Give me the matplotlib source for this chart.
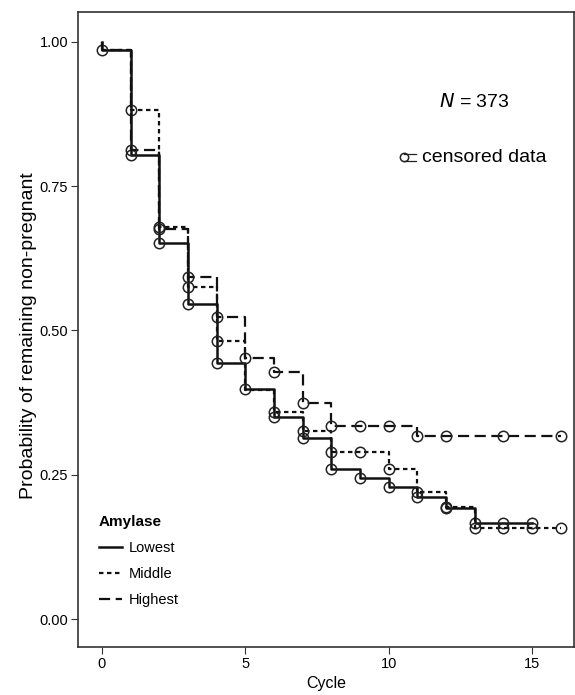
import numpy as np
import matplotlib.pyplot as plt

plt.rcParams['font.family'] = ['Liberation Sans', 'DejaVu Sans']

# survival estimate after the event at each cycle (Kaplan-Meier steps)
cycles_low = [0, 1, 2, 3, 4, 5, 6, 7, 8, 9, 10, 11, 12, 13, 14, 15]
surv_low = [0.986, 0.804, 0.652, 0.546, 0.444, 0.398, 0.350, 0.313, 0.260,
            0.245, 0.229, 0.211, 0.192, 0.166, 0.166, 0.166]
cens_low = [0, 1, 2, 3, 4, 5, 6, 7, 8, 9, 10, 11, 12, 13, 14, 15]

cycles_mid = [0, 1, 2, 3, 4, 5, 6, 7, 8, 9, 10, 11, 12, 13, 14, 15, 16]
surv_mid = [0.986, 0.882, 0.680, 0.575, 0.482, 0.396, 0.359, 0.326, 0.290,
            0.290, 0.260, 0.220, 0.194, 0.158, 0.158, 0.158, 0.158]
cens_mid = [1, 2, 3, 4, 6, 7, 8, 9, 10, 11, 12, 13, 14, 15, 16]

cycles_high = [0, 1, 2, 3, 4, 5, 6, 7, 8, 9, 10, 11, 12, 13, 14, 15, 16]
surv_high = [0.986, 0.813, 0.676, 0.593, 0.523, 0.452, 0.428, 0.375, 0.335,
             0.335, 0.335, 0.317, 0.317, 0.317, 0.317, 0.317, 0.317]
cens_high = [1, 2, 3, 4, 5, 6, 7, 8, 9, 10, 11, 12, 14, 16]

groups = ['Lowest', 'Middle', 'Highest']
n_total = 373

fig = plt.figure(figsize=(5.75, 6.95), dpi=100)
ax = fig.add_axes([0.1357, 0.069, 0.862, 0.914])

styles = {'Lowest': dict(ls='-', lw=1.8),
          'Middle': dict(ls=(0, (2.0, 1.6)), lw=1.6),
          'Highest': dict(ls=(0, (5.0, 2.5)), lw=1.6)}

data = {'Lowest': (cycles_low, surv_low, cens_low),
        'Middle': (cycles_mid, surv_mid, cens_mid),
        'Highest': (cycles_high, surv_high, cens_high)}

handles = []
for g in groups:
    t, s, c = data[g]
    x = [0] + list(t)
    y = [1.0] + list(s)
    h, = ax.step(x, y, where='post', color='#111111', label=g, **styles[g])
    handles.append(h)
    cy = [s[t.index(ci)] for ci in c]
    ax.plot(c, cy, 'o', mfc='none', mec='#222222', ms=7.5, mew=1.1)

ax.set_xlim(-0.83, 16.45)
ax.set_ylim(-0.0485, 1.052)
ax.set_xticks([0, 5, 10, 15])
ax.set_yticks([0, 0.25, 0.5, 0.75, 1.0])
ax.set_yticklabels(['0.00', '0.25', '0.50', '0.75', '1.00'])
ax.tick_params(labelsize=10.5, length=5, color='#333333', pad=2)
for sp in ax.spines.values():
    sp.set_color('#333333')
    sp.set_linewidth(1.2)

ax.set_xlabel('Cycle', fontsize=11.5)
ax.xaxis.set_label_coords(0.5, -0.046)
ax.set_ylabel('Probability of remaining non-pregnant', fontsize=14)
ax.yaxis.set_label_coords(-0.083, 0.491)

ax.text(13.0, 0.896, r'$\it{N}$ = %d' % n_total, fontsize=14, ha='center', va='center')
ax.plot([10.55], [0.80], 'o', mfc='none', mec='#222222', ms=6, mew=1.1)
ax.plot([10.55, 10.95], [0.806, 0.806], color='#222222', lw=0.9)
ax.plot([10.55, 10.95], [0.794, 0.794], color='#222222', lw=0.9)
ax.text(11.15, 0.80, 'censored data', fontsize=14, ha='left', va='center')

leg = ax.legend(handles=handles, title='Amylase', loc='upper left',
                bbox_to_anchor=(0.015, 0.228), frameon=False, fontsize=10.5,
                handlelength=1.6, handletextpad=0.45, labelspacing=0.82)
leg.get_title().set_fontweight('bold')
leg.get_title().set_fontsize(11)
leg._legend_box.align = 'left'

plt.savefig('out.png', dpi=100)
